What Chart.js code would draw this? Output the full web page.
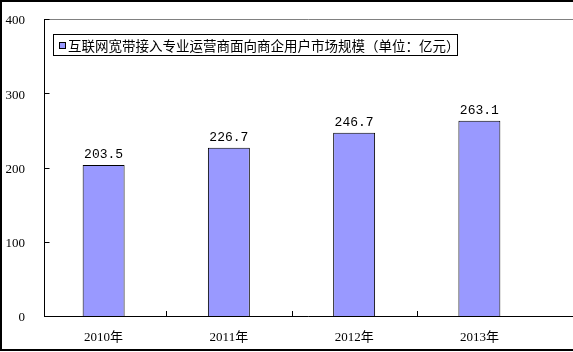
<!DOCTYPE html>
<html>
<head>
<meta charset="utf-8">
<script src="https://cdn.jsdelivr.net/npm/chart.js@4.4.0/dist/chart.umd.min.js"></script>
<style>
  html, body { margin: 0; padding: 0; background: #fff; }
  #wrap { width: 573px; height: 352px; position: relative; }
</style>
</head>
<body>
<div id="wrap"><canvas id="chart" width="573" height="352"></canvas></div>
<script>
// data
const years = ["2010年", "2011年", "2012年", "2013年"];
const marketSize = [203.5, 226.7, 246.7, 263.1];
const seriesName = "互联网宽带接入专业运营商面向商企用户市场规模（单位：亿元）";
const yTicks = [0, 100, 200, 300, 400];

const barColor = "#9999ff";
const axisX = 44.5; // value axis line sits a little right of the first category edge

// frame, inward tick marks, boxed legend and value labels
const decorations = {
  id: "decorations",
  afterDraw(chart) {
    const ctx = chart.ctx;
    const area = chart.chartArea;
    const x = chart.scales.x;
    const y = chart.scales.y;
    const W = chart.width;

    ctx.save();

    // plot top border (grey) and category axis line (black)
    ctx.lineWidth = 1;
    ctx.strokeStyle = "#808080";
    ctx.beginPath();
    ctx.moveTo(axisX, Math.round(area.top) + 0.5);
    ctx.lineTo(W, Math.round(area.top) + 0.5);
    ctx.stroke();

    ctx.strokeStyle = "#000";
    ctx.beginPath();
    ctx.moveTo(axisX, Math.round(area.bottom) + 0.5);
    ctx.lineTo(W, Math.round(area.bottom) + 0.5);
    ctx.stroke();

    // value axis line
    ctx.beginPath();
    ctx.moveTo(axisX, area.top);
    ctx.lineTo(axisX, Math.round(area.bottom) + 1);
    ctx.stroke();

    // y ticks pointing inward
    yTicks.forEach(v => {
      const py = Math.round(y.getPixelForValue(v)) + 0.5;
      ctx.beginPath();
      ctx.moveTo(axisX, py);
      ctx.lineTo(axisX + 5, py);
      ctx.stroke();
    });

    // x ticks between categories, pointing up
    for (let i = 1; i < years.length; i++) {
      const px = Math.round((x.getPixelForValue(i - 1) + x.getPixelForValue(i)) / 2) + 0.5;
      ctx.beginPath();
      ctx.moveTo(px, area.bottom);
      ctx.lineTo(px, area.bottom - 5);
      ctx.stroke();
    }

    // value labels
    ctx.fillStyle = "#000";
    ctx.font = "13px 'Liberation Mono'";
    ctx.textAlign = "center";
    ctx.textBaseline = "middle";
    chart.getDatasetMeta(0).data.forEach((bar, i) => {
      ctx.fillText(marketSize[i].toFixed(1), bar.x, bar.y - 10);
    });

    // legend box
    ctx.strokeStyle = "#000";
    ctx.strokeRect(53.5, 34.5, 404, 21);
    ctx.fillStyle = barColor;
    ctx.fillRect(59, 42, 7, 7);
    ctx.strokeRect(59.5, 42.5, 6, 6);
    ctx.fillStyle = "#000";
    ctx.font = "13.5px 'Noto Sans CJK SC'";
    ctx.textAlign = "left";
    ctx.fillText(chart.data.datasets[0].label, 68, 45.5);

    // picture frame (left, top, bottom)
    ctx.lineWidth = 2;
    ctx.beginPath();
    ctx.moveTo(W, 1);
    ctx.lineTo(1, 1);
    ctx.lineTo(1, 350);
    ctx.lineTo(W, 350);
    ctx.stroke();

    ctx.restore();
  }
};

new Chart(document.getElementById("chart"), {
  type: "bar",
  data: {
    labels: years,
    datasets: [{
      label: seriesName,
      data: marketSize,
      backgroundColor: barColor,
      borderColor: "#000",
      borderWidth: 1,
      categoryPercentage: 1,
      barPercentage: 0.335
    }]
  },
  options: {
    responsive: false,
    animation: false,
    layout: { padding: { top: 19, right: 31, left: 0, bottom: 0 } },
    plugins: {
      legend: { display: false },
      tooltip: { enabled: false }
    },
    scales: {
      x: {
        grid: { display: false },
        border: { display: false },
        ticks: {
          color: "#000",
          font: { family: "'Liberation Serif', 'Noto Sans CJK SC'", size: 13 },
          padding: 6,
          maxRotation: 0
        },
        afterFit(s) { s.height = 36; }
      },
      y: {
        min: 0,
        max: 400,
        grid: { display: false },
        border: { display: false },
        ticks: {
          stepSize: 100,
          color: "#000",
          font: { family: "'Liberation Serif'", size: 13 },
          padding: 8,
          labelOffset: 2
        },
        afterFit(s) { s.width = 41; }
      }
    }
  },
  plugins: [decorations]
});
</script>
</body>
</html>
